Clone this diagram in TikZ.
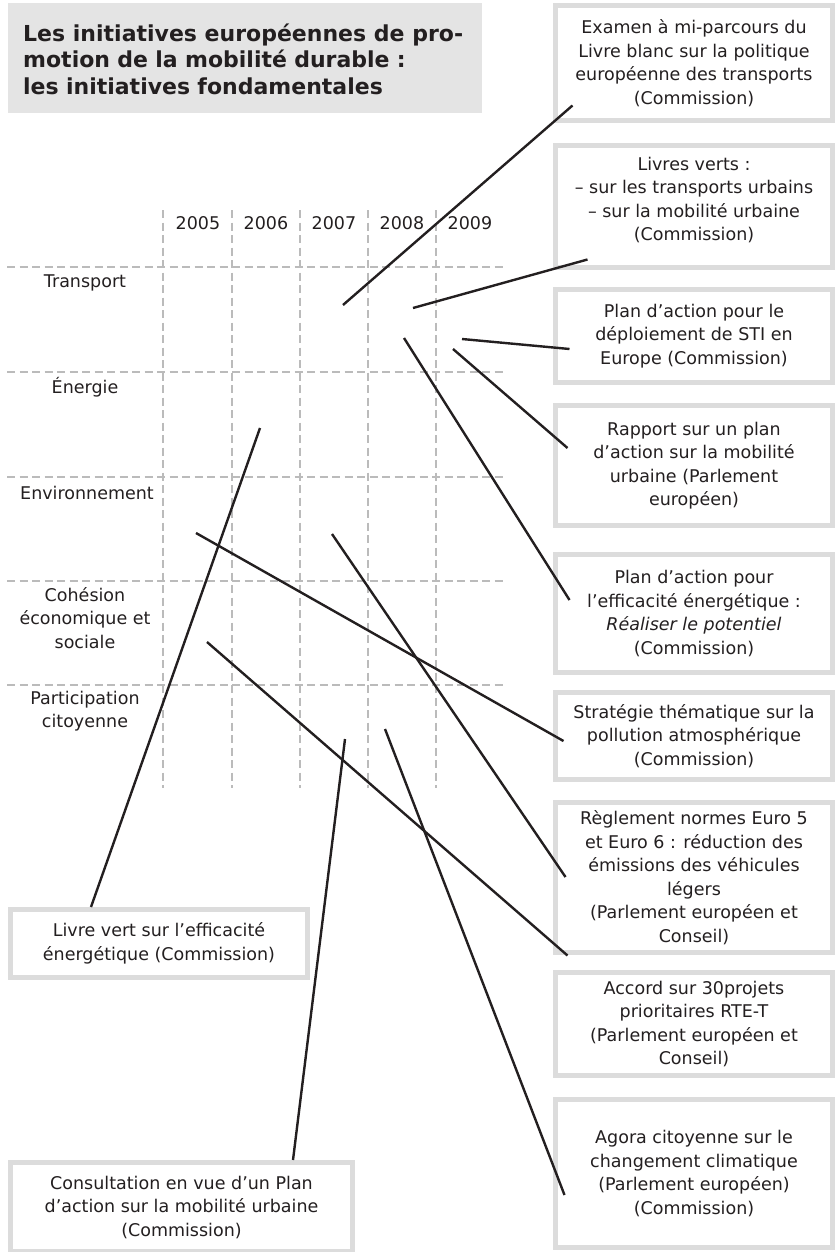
\documentclass[tikz,border=0pt]{standalone}
\usepackage{fontspec}
\setmainfont{DejaVu Sans}
\usetikzlibrary{calc}
\definecolor{boxgray}{HTML}{DCDCDC}
\definecolor{titlegray}{HTML}{E4E4E4}
\definecolor{gridgray}{HTML}{BBBBBB}
\definecolor{txt}{HTML}{231F20}
\tikzset{
  box/.style={draw=boxgray, line width=5pt, fill=white, inner sep=0pt, align=center,
    font=\fontsize{17.5}{23.5}\selectfont, text=txt},
  gridline/.style={draw=gridgray, line width=2.2pt, dash pattern=on 8pt off 4.5pt},
  conn/.style={draw=txt, line width=2.4pt},
  rowlabel/.style={align=center, font=\fontsize{17.5}{23.5}\selectfont, text=txt, inner sep=0pt},
  yearlabel/.style={font=\fontsize{17.5}{23.5}\selectfont, text=txt, inner sep=0pt}
}
\begin{document}
\begin{tikzpicture}[x=1pt,y=-1pt]
\useasboundingbox (0,0) rectangle (837,1252);
% title
\node[fill=titlegray, minimum width=474pt, minimum height=110pt, inner sep=0pt] (titlebox) at (245,58) {};
\node[anchor=west, inner sep=0pt, text width=440pt, align=left, text=txt,
  font=\fontsize{22}{26.5}\selectfont\bfseries] (title) at (23,59)
  {\hbox to 440pt{Les\hfill initiatives\hfill européennes\hfill de\hfill pro-}\\motion de la mobilité durable :\\les initiatives fondamentales};
% grid
\foreach \x/\n in {163/v1,232/v2,300/v3,368/v4,436/v5} {
  \coordinate (\n t) at (\x,210); \coordinate (\n b) at (\x,788);
  \draw[gridline] (\n t) -- (\n b);
}
\foreach \y/\n in {267/h1,372/h2,477/h3,581/h4,685/h5} {
  \coordinate (\n l) at (7,\y); \coordinate (\n r) at (503,\y);
  \draw[gridline] (\n l) -- (\n r);
}
\node[yearlabel] (y2005) at (198,223) {2005};
\node[yearlabel] (y2006) at (266,223) {2006};
\node[yearlabel] (y2007) at (334,223) {2007};
\node[yearlabel] (y2008) at (402,223) {2008};
\node[yearlabel] (y2009) at (470,223) {2009};
\node[rowlabel] (rTransport) at (85,283) {Transport};
\node[rowlabel] (rEnergie) at (85,387) {Énergie};
\node[rowlabel] (rEnv) at (87,493) {Environnement};
\node[rowlabel] (rCoh) at (85,618) {Cohésion\\économique et\\sociale};
\node[rowlabel] (rPart) at (85,711) {Participation\\citoyenne};
% right boxes
\node[box, minimum width=277pt, minimum height=115pt] (b1) at (694,63)
  {Examen à mi-parcours du\\Livre blanc sur la politique\\européenne des transports\\(Commission)};
\node[box, minimum width=277pt, minimum height=122pt, text depth=15pt] (b2) at (694,206.5)
  {Livres verts :\\– sur les transports urbains\\– sur la mobilité urbaine\\(Commission)};
\node[box, minimum width=277pt, minimum height=93pt] (b3) at (694,336)
  {Plan d’action pour le\\déploiement de STI en\\Europe (Commission)};
\node[box, minimum width=277pt, minimum height=120pt] (b4) at (694,465.5)
  {Rapport sur un plan\\d’action sur la mobilité\\urbaine (Parlement\\européen)};
\node[box, minimum width=277pt, minimum height=118pt] (b5) at (694,613.5)
  {Plan d’action pour\\l’efficacité énergétique :\\\textit{Réaliser le potentiel}\\(Commission)};
\node[box, minimum width=277pt, minimum height=87pt] (b6) at (694,736)
  {Stratégie thématique sur la\\pollution atmosphérique\\(Commission)};
\node[box, minimum width=277pt, minimum height=150pt] (b7) at (694,877.5)
  {Règlement normes Euro 5\\et Euro 6 : réduction des\\émissions des véhicules\\légers\\(Parlement européen et\\Conseil)};
\node[box, minimum width=277pt, minimum height=103pt] (b8) at (694,1024)
  {Accord sur 30projets\\prioritaires RTE-T\\(Parlement européen et\\Conseil)};
\node[box, minimum width=277pt, minimum height=148pt] (b9) at (694,1173.5)
  {Agora citoyenne sur le\\changement climatique\\(Parlement européen)\\(Commission)};
% left boxes
\node[box, minimum width=297pt, minimum height=68pt] (bA) at (159,943.5)
  {Livre vert sur l’efficacité\\énergétique (Commission)};
\node[box, minimum width=342pt, minimum height=89pt] (bB) at (181.5,1207)
  {Consultation en vue d’un Plan\\d’action sur la mobilité urbaine\\(Commission)};
% free ends in the grid
\coordinate (g1) at (343,305);
\coordinate (g2) at (413,308);
\coordinate (g3) at (462,339);
\coordinate (g4) at (453,349);
\coordinate (g5) at (404,338);
\coordinate (g6) at (196,533);
\coordinate (g7) at (332,534);
\coordinate (g8) at (207,642);
\coordinate (g9) at (385,729);
\coordinate (g10) at (260,428);
\coordinate (g11) at (345,739);
% connectors
\draw[conn] (g1) -- ([shift={(19.5,-17.5)}]b1.south west);
\draw[conn] (g2) -- ([shift={(34.5,-10.5)}]b2.south west);
\draw[conn] (g3) -- ([shift={(16.5,13)}]b3.west);
\draw[conn] (g4) -- ([shift={(14.5,-17.5)}]b4.west);
\draw[conn] (g5) -- ([shift={(16.5,-13.5)}]b5.west);
\draw[conn] (g6) -- ([shift={(10.5,5)}]b6.west);
\draw[conn] (g7) -- ([shift={(12.5,-0.5)}]b7.west);
\draw[conn] (g8) -- ([shift={(14.5,-14.5)}]b8.north west);
\draw[conn] (g9) -- ([shift={(11.5,21.5)}]b9.west);
\draw[conn] (g10) -- ([shift={(-68,0)}]bA.north);
\draw[conn] (g11) -- ([shift={(111.5,0)}]bB.north);
\end{tikzpicture}
\end{document}
